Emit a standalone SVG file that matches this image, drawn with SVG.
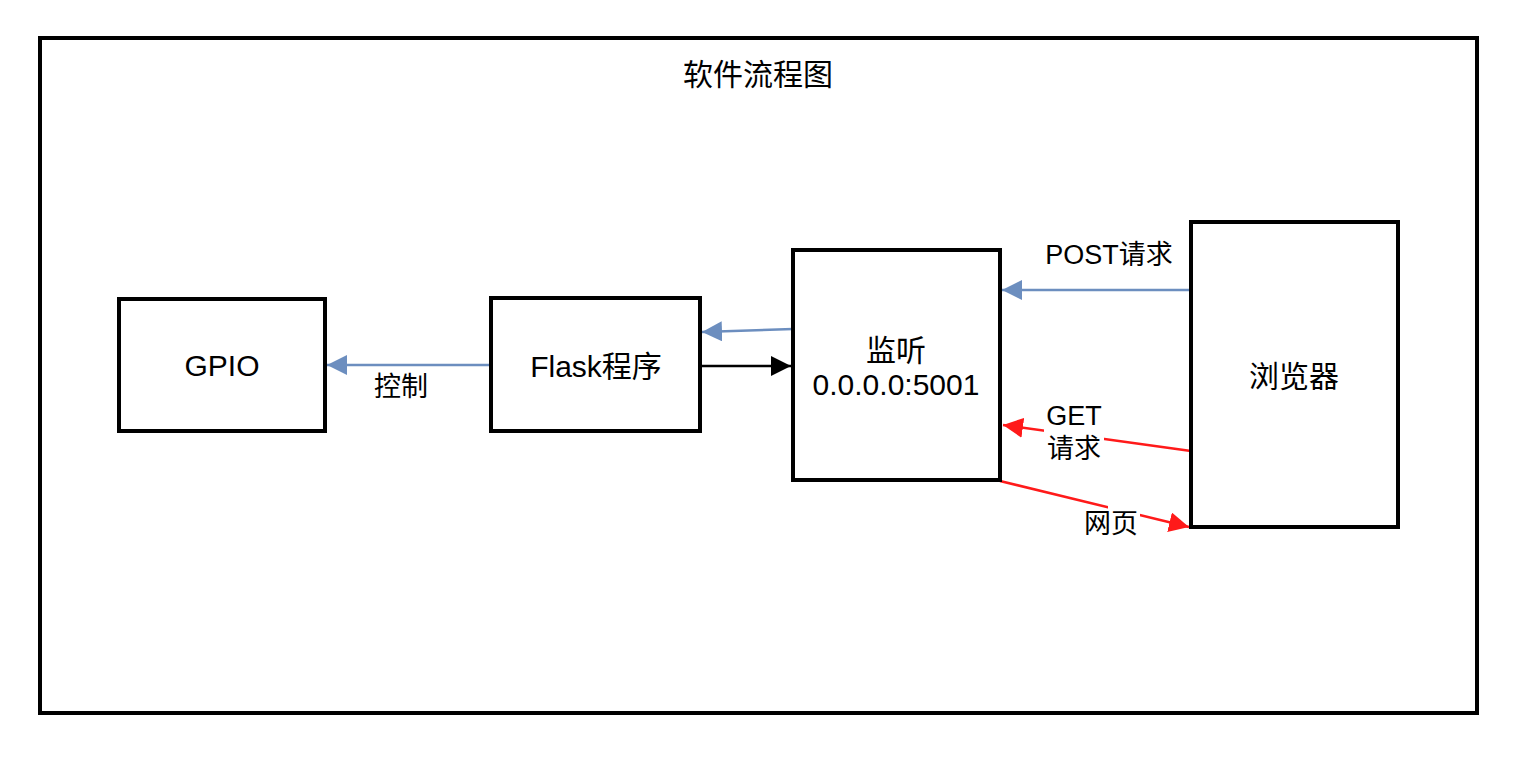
<svg xmlns="http://www.w3.org/2000/svg" width="1527" height="779" viewBox="0 0 1527 779">
<style>
.box{fill:#fff;stroke:#000;stroke-width:4}
.t{font-family:"Liberation Sans","Noto Sans CJK SC",sans-serif;font-size:30px;fill:#000;text-anchor:middle}
.l{font-family:"Liberation Sans","Noto Sans CJK SC",sans-serif;font-size:27px;fill:#000;text-anchor:middle}
.blue{stroke:#6c8ebf;stroke-width:2.5;fill:none}
.red{stroke:#ff1a1a;stroke-width:2.5;fill:none}
.blk{stroke:#000;stroke-width:2.5;fill:none}
</style>
<defs>
<marker id="ab" markerUnits="userSpaceOnUse" markerWidth="22" markerHeight="22" refX="20" refY="10" orient="auto"><path d="M0,0 L20,10 L0,20 z" fill="#6c8ebf"/></marker>
<marker id="ar" markerUnits="userSpaceOnUse" markerWidth="22" markerHeight="22" refX="20" refY="10" orient="auto"><path d="M0,0 L20,10 L0,20 z" fill="#ff1a1a"/></marker>
<marker id="ak" markerUnits="userSpaceOnUse" markerWidth="22" markerHeight="22" refX="20" refY="10" orient="auto"><path d="M0,0 L20,10 L0,20 z" fill="#000"/></marker>
</defs>
<rect width="1527" height="779" fill="#fff"/>
<g id="frame">
<rect x="40" y="38" width="1437" height="675" fill="none" stroke="#000" stroke-width="4"/>
<text class="t" x="758" y="85">软件流程图</text>
</g>
<g id="connectors">
<line class="blue" x1="491" y1="365" x2="327" y2="365" marker-end="url(#ab)"/>
<line class="blue" x1="793" y1="329" x2="702" y2="332" marker-end="url(#ab)"/>
<line class="blk" x1="702" y1="366" x2="791" y2="366" marker-end="url(#ak)"/>
<line class="blue" x1="1191" y1="290" x2="1002" y2="290" marker-end="url(#ab)"/>
<line class="red" x1="1191" y1="451" x2="1003" y2="425" marker-end="url(#ar)"/>
<line class="red" x1="1000" y1="481" x2="1189" y2="527" marker-end="url(#ar)"/>
<text class="l" x="401" y="396">控制</text>
<text class="l" x="1109" y="264">POST请求</text>
<rect x="1044" y="400" width="60" height="66" fill="#fff"/>
<text class="l" x="1074" y="425">GET</text>
<text class="l" x="1074" y="458">请求</text>
<rect x="1108" y="505" width="32" height="22" fill="#fff"/>
<text class="l" x="1111" y="533">网页</text>
</g>
<g id="gpio">
<rect class="box" x="119" y="299" width="206" height="132"/>
<text class="t" x="222" y="376">GPIO</text>
</g>
<g id="flask">
<rect class="box" x="491" y="298" width="209" height="133"/>
<text class="t" x="596" y="377">Flask程序</text>
</g>
<g id="listen">
<rect class="box" x="793" y="250" width="207" height="230"/>
<text class="t" x="896" y="361">监听</text>
<text class="t" x="896" y="395">0.0.0.0:5001</text>
</g>
<g id="browser">
<rect class="box" x="1191" y="222" width="207" height="305"/>
<text class="t" x="1294" y="387">浏览器</text>
</g>
</svg>
